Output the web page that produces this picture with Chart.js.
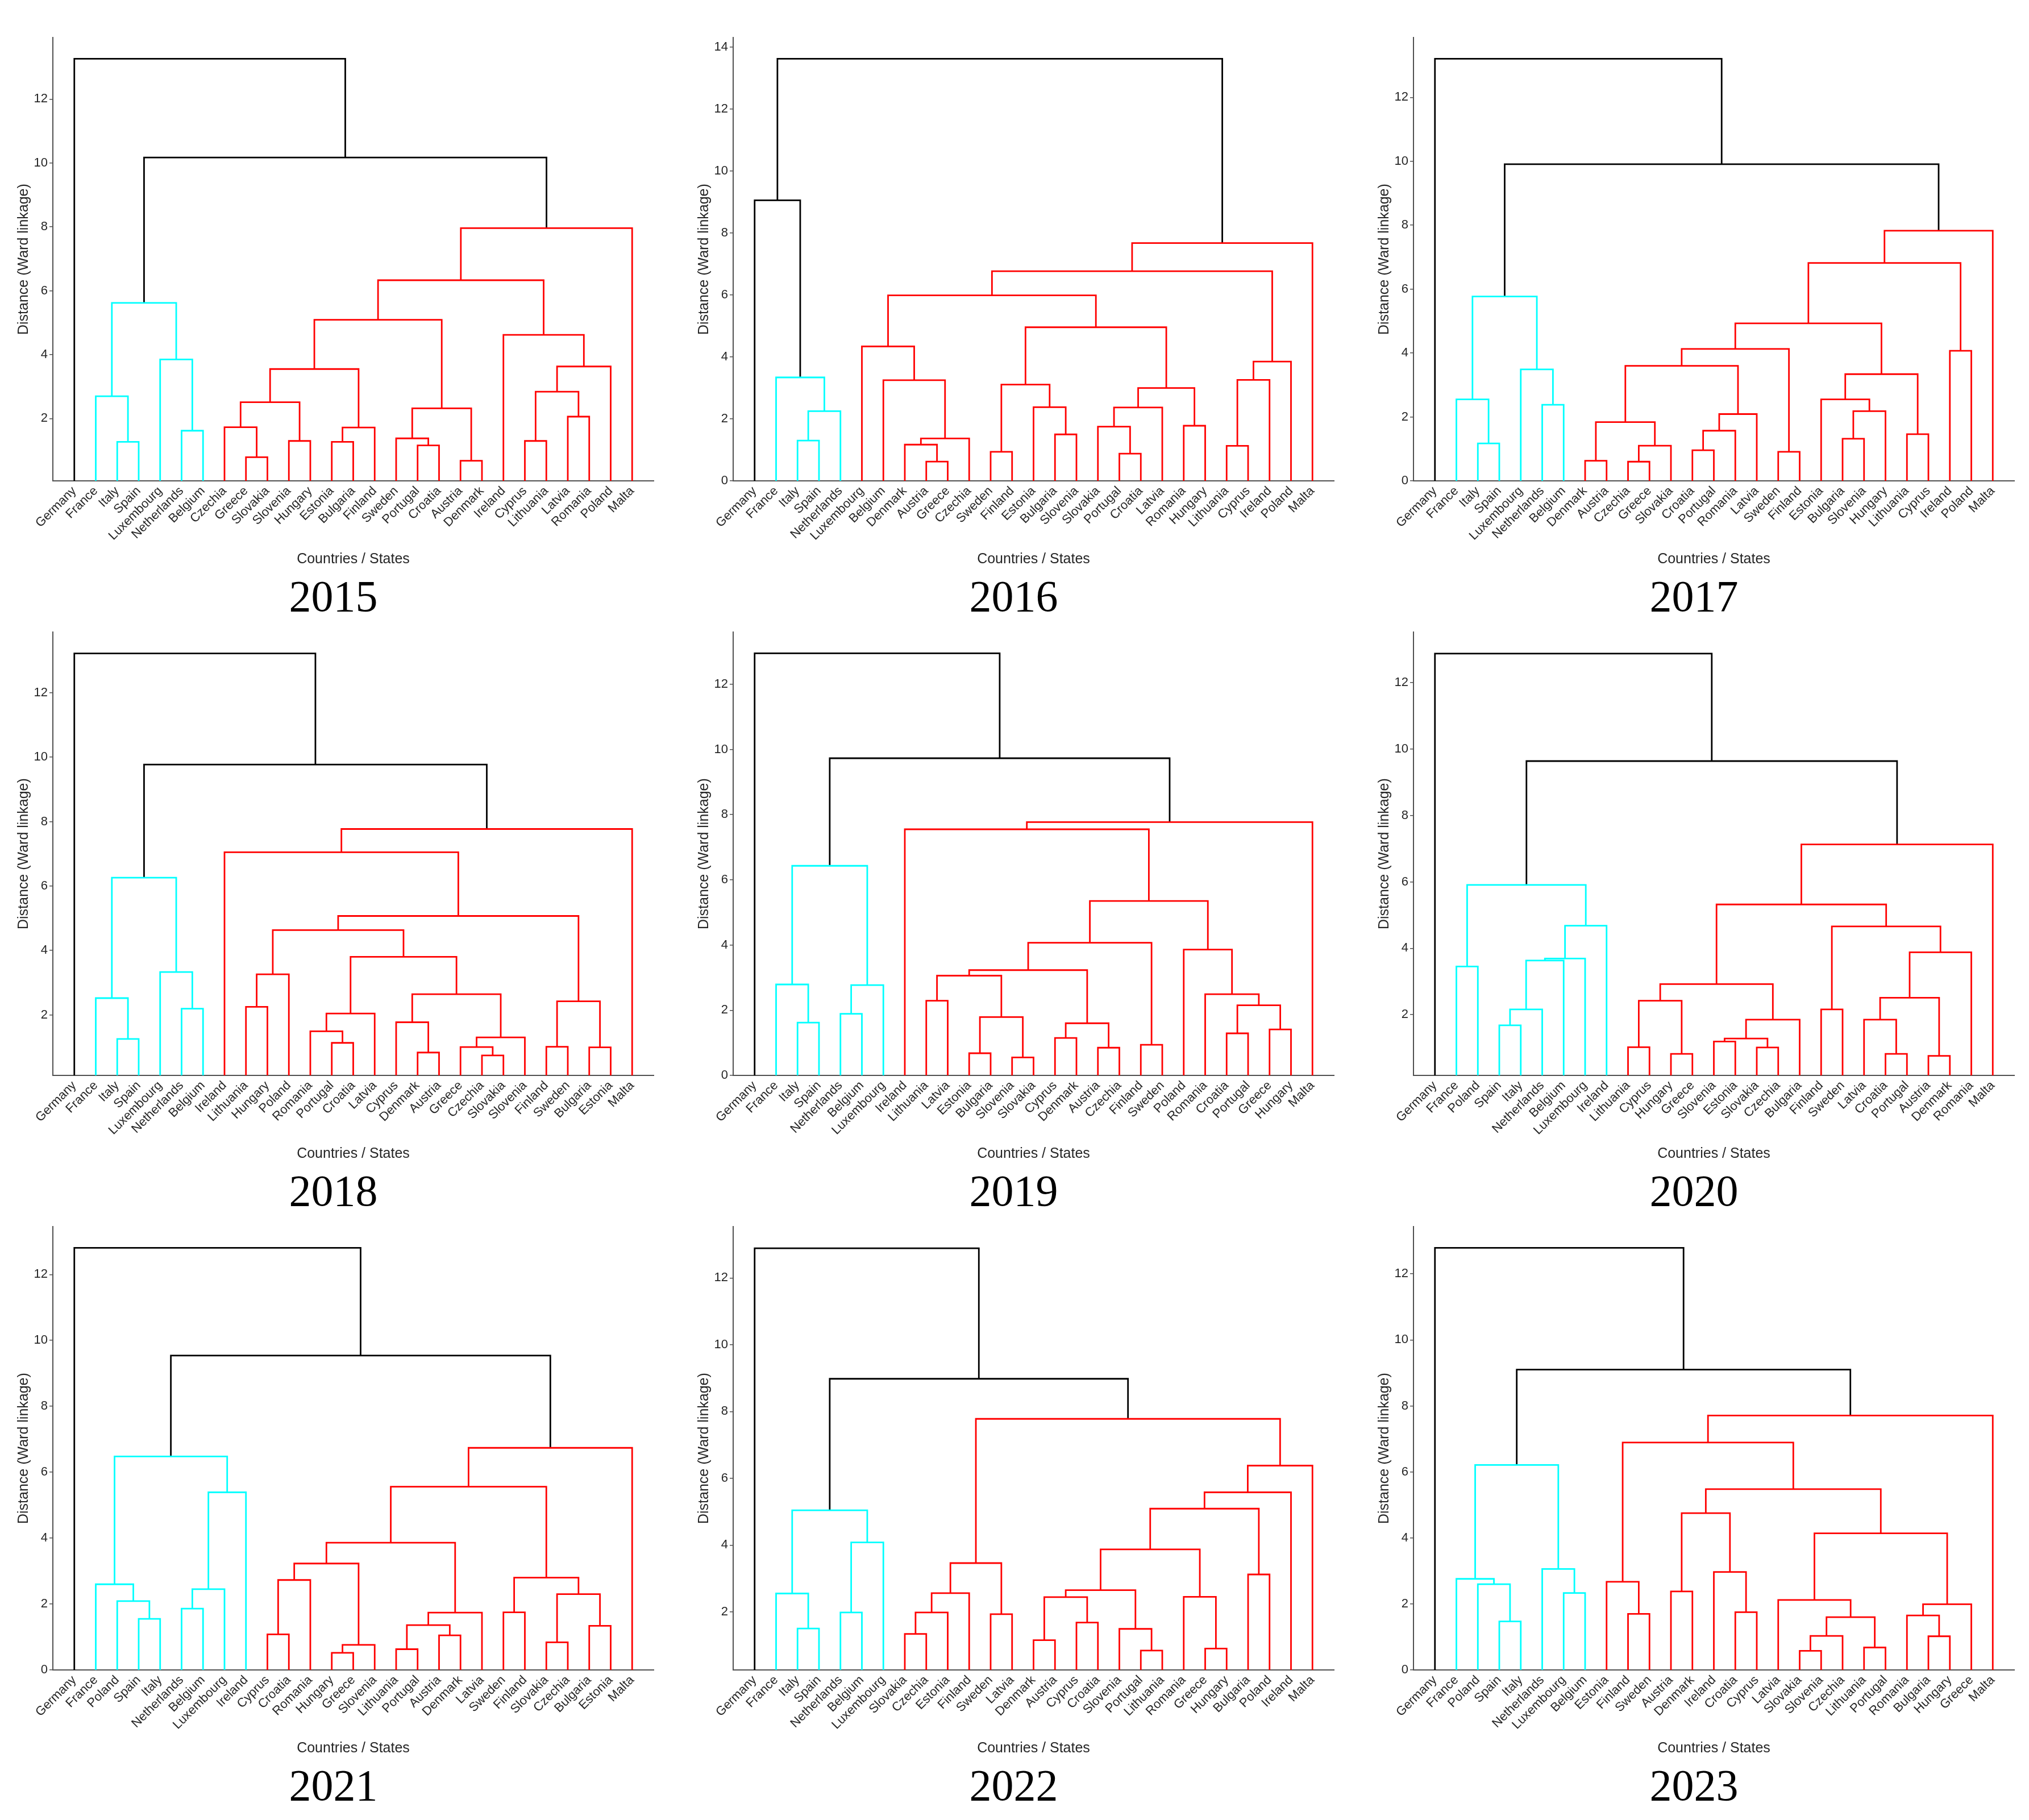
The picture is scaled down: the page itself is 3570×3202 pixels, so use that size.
<!DOCTYPE html>
<html lang="en">
<head>
<meta charset="UTF-8">
<title>Ward linkage dendrograms 2015-2023</title>
<script src="https://cdn.jsdelivr.net/npm/chart.js"></script>
<style>
  html, body { margin: 0; padding: 0; background: #fff; overflow: hidden; }
  #grid { position: relative; width: 3570px; height: 3202px; }
  .panel { position: absolute; }
</style>
</head>
<body>
<div id="grid"></div>
<script>
// ---- data: leaf order and merges per year ----
// merge = [lo, mid, hi, height]: left child = leaves lo..mid-1, right child = leaves mid..hi
const years = [2015, 2016, 2017, 2018, 2019, 2020, 2021, 2022, 2023];

const leaves2015 = ['Germany','France','Italy','Spain','Luxembourg','Netherlands','Belgium','Czechia','Greece','Slovakia','Slovenia','Hungary','Estonia','Bulgaria','Finland','Sweden','Portugal','Croatia','Austria','Denmark','Ireland','Cyprus','Lithuania','Latvia','Romania','Poland','Malta'];
const links2015 = [[2,3,3,1.27],[1,2,3,2.70],[5,6,6,1.62],[4,5,6,3.85],[1,4,6,5.62],[8,9,9,0.79],[7,8,9,1.73],[10,11,11,1.30],[7,10,11,2.51],[12,13,13,1.27],[12,14,14,1.72],[7,12,14,3.55],[16,17,17,1.16],[15,16,17,1.38],[18,19,19,0.68],[15,18,19,2.32],[7,15,19,5.09],[21,22,22,1.30],[23,24,24,2.06],[21,23,24,2.84],[21,25,25,3.63],[20,21,25,4.62],[7,20,25,6.33],[7,26,26,7.96],[1,7,26,10.17],[0,1,26,13.26]];

const leaves2016 = ['Germany','France','Italy','Spain','Netherlands','Luxembourg','Belgium','Denmark','Austria','Greece','Czechia','Sweden','Finland','Estonia','Bulgaria','Slovenia','Slovakia','Portugal','Croatia','Latvia','Romania','Hungary','Lithuania','Cyprus','Ireland','Poland','Malta'];
const links2016 = [[2,3,3,1.30],[2,4,4,2.25],[1,2,4,3.34],[0,1,4,9.06],[8,9,9,0.62],[7,8,9,1.17],[7,10,10,1.37],[6,7,10,3.25],[5,6,10,4.34],[11,12,12,0.94],[14,15,15,1.50],[13,14,15,2.38],[11,13,15,3.11],[17,18,18,0.88],[16,17,18,1.75],[16,19,19,2.37],[20,21,21,1.78],[16,20,21,3.00],[11,16,21,4.96],[5,11,21,5.99],[22,23,23,1.13],[22,24,24,3.26],[22,25,25,3.85],[5,22,25,6.77],[5,26,26,7.68],[0,5,26,13.63]];

const leaves2017 = ['Germany','France','Italy','Spain','Luxembourg','Netherlands','Belgium','Denmark','Austria','Czechia','Greece','Slovakia','Croatia','Portugal','Romania','Latvia','Sweden','Finland','Estonia','Bulgaria','Slovenia','Hungary','Lithuania','Cyprus','Ireland','Poland','Malta'];
const links2017 = [[2,3,3,1.17],[1,2,3,2.55],[5,6,6,2.38],[4,5,6,3.49],[1,4,6,5.77],[7,8,8,0.63],[9,10,10,0.60],[9,11,11,1.10],[7,9,11,1.84],[12,13,13,0.96],[12,14,14,1.57],[12,15,15,2.09],[7,12,15,3.60],[16,17,17,0.91],[7,16,17,4.13],[19,20,20,1.32],[19,21,21,2.18],[18,19,21,2.55],[22,23,23,1.46],[18,22,23,3.34],[7,18,23,4.93],[24,25,25,4.07],[7,24,25,6.82],[7,26,26,7.83],[1,7,26,9.91],[0,1,26,13.21]];

const leaves2018 = ['Germany','France','Italy','Spain','Luxembourg','Netherlands','Belgium','Ireland','Lithuania','Hungary','Poland','Romania','Portugal','Croatia','Latvia','Cyprus','Denmark','Austria','Greece','Czechia','Slovakia','Slovenia','Finland','Sweden','Bulgaria','Estonia','Malta'];
const links2018 = [[2,3,3,1.25],[1,2,3,2.52],[5,6,6,2.19],[4,5,6,3.33],[1,4,6,6.26],[8,9,9,2.25],[8,10,10,3.26],[12,13,13,1.13],[11,12,13,1.49],[11,14,14,2.04],[16,17,17,0.83],[15,16,17,1.77],[19,20,20,0.74],[18,19,20,1.00],[18,21,21,1.30],[15,18,21,2.64],[11,15,21,3.80],[8,11,21,4.63],[22,23,23,1.01],[24,25,25,0.99],[22,24,25,2.42],[8,22,25,5.07],[7,8,25,7.05],[7,26,26,7.77],[1,7,26,9.77],[0,1,26,13.22]];

const leaves2019 = ['Germany','France','Italy','Spain','Netherlands','Belgium','Luxembourg','Ireland','Lithuania','Latvia','Estonia','Bulgaria','Slovenia','Slovakia','Cyprus','Denmark','Austria','Czechia','Finland','Sweden','Poland','Romania','Croatia','Portugal','Greece','Hungary','Malta'];
const links2019 = [[2,3,3,1.62],[1,2,3,2.79],[4,5,5,1.89],[4,6,6,2.77],[1,4,6,6.43],[8,9,9,2.29],[10,11,11,0.68],[12,13,13,0.55],[10,12,13,1.79],[8,10,13,3.06],[14,15,15,1.15],[16,17,17,0.85],[14,16,17,1.60],[8,14,17,3.23],[18,19,19,0.94],[8,18,19,4.07],[22,23,23,1.29],[24,25,25,1.41],[22,24,25,2.15],[21,22,25,2.49],[20,21,25,3.86],[8,20,25,5.35],[7,8,25,7.55],[7,26,26,7.77],[1,7,26,9.73],[0,1,26,12.95]];

const leaves2020 = ['Germany','France','Poland','Spain','Italy','Netherlands','Belgium','Luxembourg','Ireland','Lithuania','Cyprus','Hungary','Greece','Slovenia','Estonia','Slovakia','Czechia','Bulgaria','Finland','Sweden','Latvia','Croatia','Portugal','Austria','Denmark','Romania','Malta'];
const links2020 = [[1,2,2,3.45],[3,4,4,1.68],[3,5,5,2.16],[3,6,6,3.63],[3,7,7,3.69],[3,8,8,4.68],[1,3,8,5.91],[9,10,10,1.02],[11,12,12,0.82],[9,11,12,2.42],[13,14,14,1.19],[15,16,16,1.01],[13,15,16,1.28],[13,17,17,1.85],[9,13,17,2.92],[18,19,19,2.16],[21,22,22,0.82],[20,21,22,1.85],[23,24,24,0.76],[20,23,24,2.51],[20,25,25,3.88],[18,20,25,4.66],[9,18,25,5.32],[9,26,26,7.13],[1,9,26,9.64],[0,1,26,12.88]];

const leaves2021 = ['Germany','France','Poland','Spain','Italy','Netherlands','Belgium','Luxembourg','Ireland','Cyprus','Croatia','Romania','Hungary','Greece','Slovenia','Lithuania','Portugal','Austria','Denmark','Latvia','Sweden','Finland','Slovakia','Czechia','Bulgaria','Estonia','Malta'];
const links2021 = [[3,4,4,1.55],[2,3,4,2.09],[1,2,4,2.60],[5,6,6,1.86],[5,7,7,2.45],[5,8,8,5.39],[1,5,8,6.48],[9,10,10,1.08],[9,11,11,2.73],[12,13,13,0.52],[12,14,14,0.76],[9,12,14,3.23],[15,16,16,0.63],[17,18,18,1.05],[15,17,18,1.36],[15,19,19,1.74],[9,15,19,3.86],[20,21,21,1.75],[22,23,23,0.84],[24,25,25,1.34],[22,24,25,2.30],[20,22,25,2.80],[9,20,25,5.56],[9,26,26,6.74],[1,9,26,9.54],[0,1,26,12.81]];

const leaves2022 = ['Germany','France','Italy','Spain','Netherlands','Belgium','Luxembourg','Slovakia','Czechia','Estonia','Finland','Sweden','Latvia','Denmark','Austria','Cyprus','Croatia','Slovenia','Portugal','Lithuania','Romania','Greece','Hungary','Bulgaria','Poland','Ireland','Malta'];
const links2022 = [[2,3,3,1.50],[1,2,3,2.55],[4,5,5,1.98],[4,6,6,4.08],[1,4,6,5.04],[7,8,8,1.34],[7,9,9,1.98],[7,10,10,2.56],[11,12,12,1.93],[7,11,12,3.46],[13,14,14,1.15],[15,16,16,1.68],[13,15,16,2.44],[18,19,19,0.84],[17,18,19,1.49],[13,17,19,2.65],[21,22,22,0.90],[20,21,22,2.45],[13,20,22,3.87],[23,24,24,3.12],[13,23,24,5.09],[13,25,25,5.58],[13,26,26,6.38],[7,13,26,7.78],[1,7,26,8.98],[0,1,26,12.89]];

const leaves2023 = ['Germany','France','Poland','Spain','Italy','Netherlands','Luxembourg','Belgium','Estonia','Finland','Sweden','Austria','Denmark','Ireland','Croatia','Cyprus','Latvia','Slovakia','Slovenia','Czechia','Lithuania','Portugal','Romania','Bulgaria','Hungary','Greece','Malta'];
const links2023 = [[3,4,4,1.47],[2,3,4,2.60],[1,2,4,2.76],[6,7,7,2.33],[5,6,7,3.06],[1,5,7,6.21],[9,10,10,1.70],[8,9,10,2.67],[11,12,12,2.38],[14,15,15,1.75],[13,14,15,2.97],[11,13,15,4.75],[17,18,18,0.58],[17,19,19,1.03],[20,21,21,0.68],[17,20,21,1.60],[16,17,21,2.12],[23,24,24,1.02],[22,23,24,1.65],[22,25,25,1.99],[16,22,25,4.14],[11,16,25,5.48],[8,11,25,6.89],[8,26,26,7.71],[1,8,26,9.10],[0,1,26,12.79]];

// lower end of the distance axis in each panel
const yMins = [0.05, 0, 0, 0.12, 0, 0.17, 0, 0.26, 0];

const allLeaves = [leaves2015, leaves2016, leaves2017, leaves2018, leaves2019, leaves2020, leaves2021, leaves2022, leaves2023];
const allLinks = [links2015, links2016, links2017, links2018, links2019, links2020, links2021, links2022, links2023];

const colorThreshold = 8.5;
const clusterColors = ['#00ffff', '#ff0000'];
const aboveColor = '#000000';
const textColor = '#262626';
const axisColor = '#505050';
const sans = "'Liberation Sans', Arial, sans-serif";

// turn the merges into U shapes, child positions from the leaf order
function buildTree(leaves, links) {
    const nodes = {};
    leaves.forEach((name, i) => { nodes[i + '-' + i] = { x: i + 1, h: 0, lo: i, hi: i }; });
    return links.map(([lo, mid, hi, h]) => {
        const a = nodes[lo + '-' + (mid - 1)];
        const b = nodes[mid + '-' + hi];
        if (!a || !b) throw new Error('bad merge ' + [lo, mid, hi]);
        const node = { x: (a.x + b.x) / 2, h: h, lo: lo, hi: hi };
        nodes[lo + '-' + hi] = node;
        return { a: a, b: b, node: node };
    });
}

function linkColors(tree) {
    const below = tree.filter(l => l.node.h <= colorThreshold);
    const roots = below.filter(l => !below.some(o => o !== l && o.node.lo <= l.node.lo && o.node.hi >= l.node.hi))
        .sort((p, q) => p.node.lo - q.node.lo);
    return tree.map(l => {
        if (l.node.h > colorThreshold) return aboveColor;
        const r = roots.findIndex(o => o.node.lo <= l.node.lo && o.node.hi >= l.node.hi);
        return clusterColors[r % clusterColors.length];
    });
}

function makeChart(canvas, year, leaves, links, yMin) {
    const tree = buildTree(leaves, links);
    const colors = linkColors(tree);
    const yMax = 1.05 * Math.max(...links.map(l => l[3]));
    const datasets = tree.map((l, i) => ({
        data: [
            { x: l.a.x, y: l.a.h },
            { x: l.a.x, y: l.node.h },
            { x: l.b.x, y: l.node.h },
            { x: l.b.x, y: l.b.h }
        ],
        borderColor: colors[i],
        borderWidth: 2.8,
        borderJoinStyle: 'miter',
        borderCapStyle: 'butt',
        pointRadius: 0,
        fill: false,
        tension: 0
    }));

    return new Chart(canvas, {
        type: 'line',
        data: { datasets: datasets },
        options: {
            responsive: false,
            animation: false,
            devicePixelRatio: 1,
            events: [],
            layout: { padding: { left: 23, right: 20, top: 6, bottom: 0 } },
            plugins: {
                legend: { display: false },
                tooltip: { enabled: false },
                title: {
                    display: true,
                    text: String(year),
                    position: 'bottom',
                    color: '#000000',
                    font: { family: "'Liberation Serif', 'Times New Roman', serif", size: 78, weight: 'normal', lineHeight: 1 },
                    padding: { top: 17, bottom: 2 }
                }
            },
            scales: {
                x: {
                    type: 'linear',
                    min: 0,
                    max: leaves.length + 1,
                    afterBuildTicks: function (scale) {
                        scale.ticks = leaves.map((_, i) => ({ value: i + 1 }));
                    },
                    afterFit: function (scale) { scale.height = 153; },
                    ticks: {
                        autoSkip: false,
                        minRotation: 45,
                        maxRotation: 45,
                        padding: 5,
                        color: textColor,
                        font: { family: sans, size: 22 },
                        callback: function (value) { return leaves[value - 1] || ''; }
                    },
                    grid: { display: false, drawTicks: false },
                    border: { display: true, color: axisColor, width: 2 },
                    title: {
                        display: true,
                        text: 'Countries / States',
                        color: textColor,
                        font: { family: sans, size: 25 },
                        padding: 0
                    }
                },
                y: {
                    type: 'linear',
                    min: yMin,
                    max: yMax,
                    afterBuildTicks: function (scale) {
                        const t = [];
                        for (let v = 0; v <= yMax; v += 2) {
                            if (v >= yMin - 1e-9) t.push({ value: v });
                        }
                        scale.ticks = t;
                    },
                    afterFit: function (scale) { scale.width = 70; },
                    ticks: {
                        padding: 3,
                        color: textColor,
                        font: { family: sans, size: 22 }
                    },
                    grid: { drawOnChartArea: false, drawTicks: true, tickLength: 6, color: axisColor, lineWidth: 1.5 },
                    border: { display: true, color: axisColor, width: 2 },
                    title: {
                        display: true,
                        text: 'Distance (Ward linkage)',
                        color: textColor,
                        font: { family: sans, size: 25 },
                        padding: { top: 4, bottom: 0 }
                    }
                }
            }
        }
    });
}

const grid = document.getElementById('grid');
years.forEach((year, k) => {
    const col = k % 3;
    const row = Math.floor(k / 3);
    const div = document.createElement('div');
    div.className = 'panel';
    div.style.left = (col * 1197) + 'px';
    div.style.top = (50 + row * 1046) + 'px';
    const canvas = document.createElement('canvas');
    canvas.width = 1170;
    canvas.height = 1046;
    div.appendChild(canvas);
    grid.appendChild(div);
    makeChart(canvas, year, allLeaves[k], allLinks[k], yMins[k]);
});
</script>
</body>
</html>
